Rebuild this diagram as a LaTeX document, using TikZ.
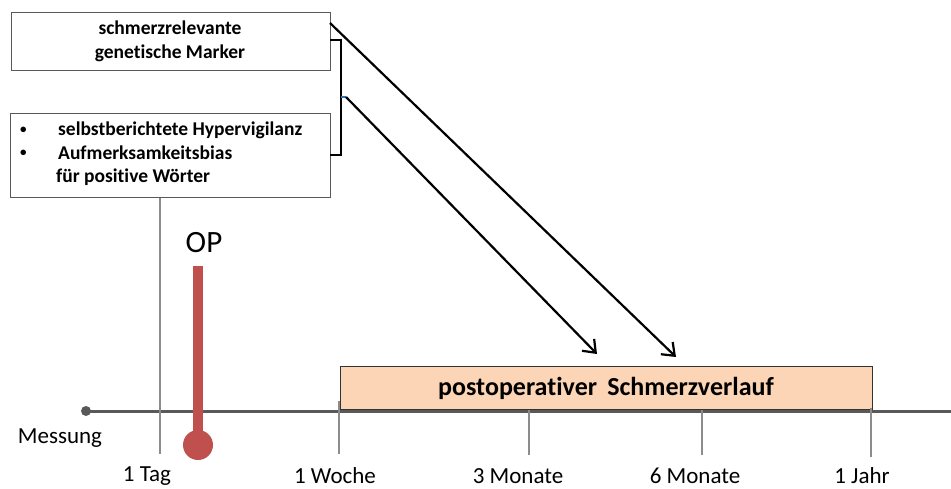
\documentclass[tikz,border=0pt]{standalone}
\usepackage{fontspec}
\setmainfont{Carlito}[Ligatures=NoCommon]
\usetikzlibrary{arrows.meta}
\definecolor{axisgray}{HTML}{595959}
\definecolor{tickgray}{HTML}{8C8C8C}
\definecolor{opred}{HTML}{C0504D}
\definecolor{peach}{HTML}{FBD5B5}
\definecolor{linkblue}{HTML}{2E75B6}
\begin{document}
\begin{tikzpicture}[x=1pt,y=-1pt,
  infobox/.style={draw=axisgray,line width=1pt,fill=white,inner sep=0pt},
  boxtext/.style={font=\fontsize{19.5}{24}\selectfont\bfseries,inner sep=0pt},
  bullettext/.style={font=\fontsize{13}{16}\selectfont\bfseries,inner sep=0pt},
  ticktext/.style={font=\fontsize{23}{26}\selectfont,inner sep=0pt},
  tickline/.style={draw=tickgray,line width=2pt},
  link/.style={draw=black,line width=2.2pt,-{Straight Barb[length=11pt,width=17pt,line width=2.2pt]}}]
\useasboundingbox (0,0) rectangle (951,488);

% time axis with start dot
\coordinate (axstart) at (86,411);
\coordinate (axend) at (951,411);
\draw[axisgray,line width=3pt] (axstart) -- (axend);
\fill[axisgray] (axstart) circle (5);

% postoperative pain course
\node[draw=black!80,line width=1pt,fill=peach,minimum width=532pt,minimum height=43pt,anchor=north west,inner sep=0pt] (course) at (340,366) {};
\node[font=\fontsize{26}{30}\selectfont\bfseries,inner sep=0pt] (coursetext) at (606,388) {postoperativer\, Schmerzverlauf};

% measurement ticks
\coordinate (t1top) at (160,197);  \coordinate (t1bot) at (160,454);
\coordinate (t2top) at (339,401);  \coordinate (t2bot) at (339,454);
\coordinate (t3top) at (529,410);  \coordinate (t3bot) at (529,455);
\coordinate (t4top) at (702,410);  \coordinate (t4bot) at (702,455);
\coordinate (t5top) at (871,408);  \coordinate (t5bot) at (871,457);
\draw[tickline] (t1top) -- (t1bot);
\draw[tickline] (t2top) -- (t2bot);
\draw[tickline] (t3top) -- (t3bot);
\draw[tickline] (t4top) -- (t4bot);
\draw[tickline] (t5top) -- (t5bot);

\node[ticktext] (messung) at (60,438) {Messung};
\node[ticktext] (tag) at (147,476) {1 Tag};
\node[ticktext] (woche) at (335,476) {1 Woche};
\node[ticktext] (m3) at (518,476) {3 Monate};
\node[ticktext] (m6) at (695,476) {6 Monate};
\node[ticktext] (jahr) at (862,476) {1 Jahr};

% surgery marker
\coordinate (optop) at (198,266);
\coordinate (opbot) at (198,440);
\draw[opred,line width=10pt] (optop) -- (opbot);
\fill[opred] (198,445) circle (15);
\node[font=\fontsize{31}{34}\selectfont,inner sep=0pt] (op) at (204,243) {OP};

% predictor boxes
\node[infobox,minimum width=319pt,minimum height=58pt,anchor=north west] (gen) at (11,12) {};
\node[boxtext,align=center] (gentext) at (170,41.5) {schmerzrelevante\\genetische Marker};

\node[infobox,minimum width=320pt,minimum height=84pt,anchor=north west] (psy) at (10,113) {};
\node[bullettext,anchor=west] (b1) at (20,130) {•};
\node[bullettext,anchor=west] (b2) at (20,153) {•};
\node[boxtext,anchor=west] (l1) at (58,130) {selbstberichtete Hypervigilanz};
\node[boxtext,anchor=west] (l2) at (58,153) {Aufmerksamkeitsbias};
\node[boxtext,anchor=west] (l3) at (56,177) {für positive Wörter};

% bracket joining both boxes
\coordinate (brtop) at (330,40);
\coordinate (brbot) at (330,155);
\coordinate (brmid) at (341,97);
\coordinate (brout) at (346,97);
\draw[black,line width=2.2pt] (brtop) -- (341,40) -- (341,155) -- (brbot);
\draw[linkblue,line width=1.5pt] (brmid) -- (brout);

% influence arrows onto the pain course
\coordinate (a1end) at (676,357);
\coordinate (a2end) at (597,354);
\draw[link] (330,23) -- (a1end);
\draw[link] (brout) -- (a2end);
\end{tikzpicture}
\end{document}
